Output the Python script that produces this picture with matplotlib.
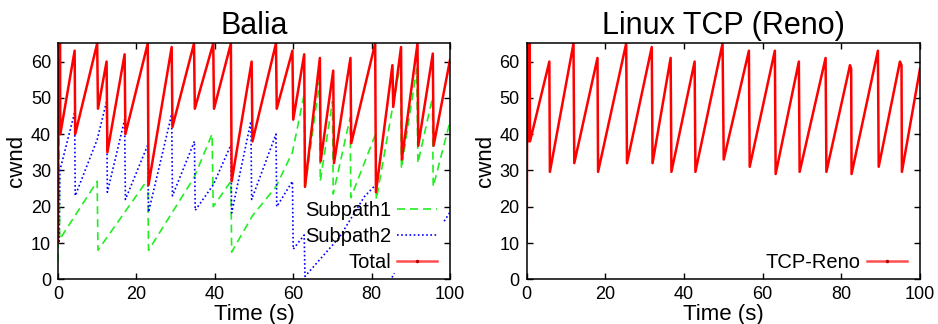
import matplotlib
matplotlib.use("Agg")
import matplotlib.pyplot as plt
from matplotlib.lines import Line2D

plt.rcParams['font.family'] = ['Liberation Sans', 'DejaVu Sans']

# Balia: vertices of the sawtooth traces (time in s, cwnd in packets)
balia_total_t = [0, 0.12, 0.2, 0.3, 0.4, 0.5, 0.6, 4.25, 4.4, 10.0, 10.2, 12.4, 12.6,
                 17.0, 17.2, 22.9, 23.1, 29.0, 29.2, 34.7, 34.9, 39.6, 39.8, 44.1, 44.3,
                 49.4, 49.6, 55.6, 55.8, 59.8, 60.0, 62.8, 63.0, 66.8, 67.0, 70.2, 70.4,
                 74.6, 74.8, 80.9, 81.1, 85.3, 85.5, 87.5, 87.7, 91.7, 91.9, 95.6, 95.8, 100]
balia_total_v = [10, 65, 42, 65, 40, 65, 40, 63, 40, 65, 47, 60, 35,
                 62, 40, 65, 26, 64, 42, 65, 47, 65, 47, 65, 27,
                 60, 38, 65, 47, 63, 44, 62, 25.5, 61, 32.5, 57.5, 32,
                 61, 37.5, 65, 24, 59, 47.5, 64, 33, 65, 36.8, 62.2, 36.8, 60.5]

sub1_t = [0, 0.2, 0.45, 10.0, 10.2, 22.9, 23.1, 34.7, 39.3, 39.6, 44.1, 44.3,
          49.6, 55.6, 59.8, 62.8, 63.0, 66.7, 66.9, 70.0, 70.2, 74.5, 74.7,
          81.0, 81.2, 87.4, 87.6, 91.5, 91.8, 95.5, 95.7, 100]
sub1_v = [5, 47, 11, 27, 8, 27.5, 8, 28, 40, 20, 27, 7.5,
          17.5, 25.5, 35, 51, 25, 54.5, 27, 49, 23.5, 44.5, 22.5,
          40, 22, 60, 30.5, 58, 32, 50, 25.5, 43.5]

# None marks a gap in the trace (no samples drawn there)
sub2_t = [0, 0.3, 0.5, 4.25, 4.4, 10.0, 12.4, 12.6, 17.0, 17.2, 22.9, 23.1,
          29.0, 29.2, 34.8, 35.0, 39.6, 44.1, 44.3, 49.2, 49.4, 55.6, 55.8,
          59.8, 60.0, 62.8, 63.0, 71.8, 78.1, 81.0, None, 85.2, 85.8, None,
          98.5, 100]
sub2_v = [12, 10, 30, 46, 23, 38.5, 49, 24, 44, 22, 37, 18.5,
          45.5, 23, 38, 19, 26, 37, 18.3, 43.5, 22, 40, 20,
          27, 8.3, 12.2, 0.8, 11.6, 22.7, 26, None, 0.5, 1.7, None,
          16, 18.5]

# Linux TCP (Reno)
reno_t = [0, 0.2, 0.3, 0.45, 0.6, 0.75, 0.85, 5.76, 5.9, 11.9, 12.1, 18.0, 18.15,
          25.3, 25.5, 31.8, 32.0, 36.6, 36.8, 42.7, 42.9, 49.8, 50.1, 56.5, 56.7,
          63.1, 63.3, 69.2, 69.4, 76.0, 76.2, 82.2, 82.5, 82.6, 89.3, 89.5,
          94.9, 95.3, 95.4, 100]
reno_v = [10, 65, 38, 65, 40, 65, 38, 60, 29.6, 65, 32, 61, 29.6,
          65, 32, 64, 32, 61, 29.6, 60, 29.6, 65, 33, 63, 31,
          63, 29, 60, 29.6, 61, 29.6, 59, 58, 29, 63, 31,
          60, 59, 29.6, 58]

xticks = [0, 20, 40, 60, 80, 100]
yticks = [0, 10, 20, 30, 40, 50, 60]

fig = plt.figure(figsize=(9.38, 3.24), dpi=100)
ax1 = fig.add_axes([0.0618, 0.138, 0.418, 0.728])
ax2 = fig.add_axes([0.5615, 0.138, 0.4193, 0.728])

red = '#ff0000'
green_kw = dict(color='#22ee22', lw=1.2, ls=(0, (4.8, 3)))
blue_kw = dict(color='#0000ff', lw=1.2, ls=(0, (1, 1.5)))

ax1.plot(sub1_t, sub1_v, **green_kw)
ax1.plot(sub2_t, sub2_v, **blue_kw)
ax1.plot(balia_total_t, balia_total_v, color=red, lw=1.8)
ax1.set_title('Balia', fontsize=22, pad=7)

ax2.plot(reno_t, reno_v, color=red, lw=1.8)
ax2.set_title('Linux TCP (Reno)', fontsize=22, pad=7)


# legend handles: red line with a small point in the middle (gnuplot linespoints)
def red_handle():
    return Line2D([], [], color='#ff5050', lw=1.8, marker='.', ms=3,
                  mfc='#c00000', mec='#c00000')


handles1 = [Line2D([], [], **green_kw), Line2D([], [], **blue_kw), red_handle()]
labels1 = ['Subpath1', 'Subpath2', 'Total']
handles2 = [red_handle()]
labels2 = ['TCP-Reno']

for ax, h, l in ((ax1, handles1, labels1), (ax2, handles2, labels2)):
    ax.set_xlim(0, 100)
    ax.set_ylim(0, 65)
    ax.set_xticks(xticks)
    ax.set_yticks(yticks)
    ax.tick_params(direction='in', top=True, right=True, length=4, width=1,
                   labelsize=13, pad=5)
    for s in ax.spines.values():
        s.set_linewidth(1.1)
    ax.set_xlabel('Time (s)', fontsize=16)
    ax.set_ylabel('cwnd', fontsize=16)
    ax.xaxis.set_label_coords(0.5, -0.106)
    ax.yaxis.set_label_coords(-0.079, 0.5)
    ax.legend(h, l, loc='lower right', bbox_to_anchor=(0.967, 0.03), frameon=False,
              markerfirst=False, fontsize=14.5, handlelength=2, handletextpad=0.3,
              labelspacing=0.35, borderpad=0, borderaxespad=0)

fig.savefig('out.png', dpi=100)
